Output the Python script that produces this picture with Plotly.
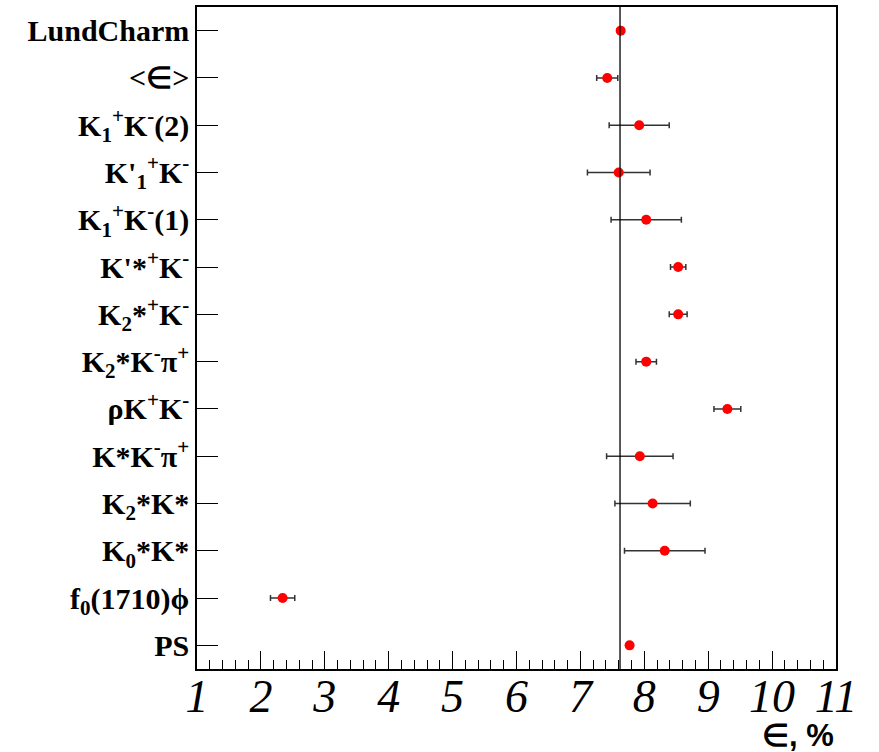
import plotly.graph_objects as go

labels = [
    "LundCharm",
    "<∈>",
    "K<sub>1</sub><sup>+</sup>K<sup>-</sup>(2)",
    "K'<sub>1</sub><sup>+</sup>K<sup>-</sup>",
    "K<sub>1</sub><sup>+</sup>K<sup>-</sup>(1)",
    "K'*<sup>+</sup>K<sup>-</sup>",
    "K<sub>2</sub>*<sup>+</sup>K<sup>-</sup>",
    "K<sub>2</sub>*K<sup>-</sup>π<sup>+</sup>",
    "ρK<sup>+</sup>K<sup>-</sup>",
    "K*K<sup>-</sup>π<sup>+</sup>",
    "K<sub>2</sub>*K*",
    "K<sub>0</sub>*K*",
    "f<sub>0</sub>(1710)ϕ",
    "PS",
]
eff = [7.63, 7.42, 7.92, 7.60, 8.03, 8.53, 8.53, 8.03, 9.30, 7.93, 8.13, 8.32, 2.34, 7.77]
err = [0.0, 0.165, 0.47, 0.49, 0.55, 0.12, 0.14, 0.16, 0.21, 0.52, 0.59, 0.63, 0.19, 0.0]
mean_eff = 7.62
x_ticks = list(range(1, 12))

ypos = list(range(len(labels)))

fig = go.Figure()
fig.add_trace(go.Scatter(
    x=eff, y=ypos, mode="markers",
    marker=dict(color="#ff0000", size=10, line=dict(width=0)),
    error_x=dict(type="data", array=err, visible=True, color="#333333", thickness=1.5, width=3),
    showlegend=False,
))

fig.add_shape(type="line", xref="x", yref="paper", x0=mean_eff, x1=mean_eff, y0=0, y1=1,
              line=dict(color="black", width=1.3))

fig.update_layout(
    width=879, height=752,
    margin=dict(l=197, r=43, t=5, b=83),
    paper_bgcolor="white", plot_bgcolor="white",
    xaxis=dict(
        range=[1, 11], tickvals=x_ticks, ticktext=[str(v) for v in x_ticks],
        ticks="inside", ticklen=18, tickcolor="black", tickwidth=1,
        minor=dict(ticks="inside", ticklen=9, dtick=0.2, tickcolor="black", tickwidth=1, showgrid=False),
        showgrid=False, zeroline=False,
        showline=True, linecolor="black", linewidth=1.5, mirror=True,
        ticklabelstandoff=-14,
        tickfont=dict(family="Liberation Serif", size=46, style="italic", color="black"),
    ),
    yaxis=dict(
        range=[13.5, -0.5], tickvals=ypos, ticktext=labels,
        ticks="inside", ticklen=21, tickcolor="black", tickwidth=1,
        showgrid=False, zeroline=False,
        showline=True, linecolor="black", linewidth=1.5, mirror=True,
        tickfont=dict(family="Liberation Serif", size=30, weight="bold", color="black"),
    ),
    annotations=[dict(
        text="∈, %", xref="paper", yref="paper", x=1.0, y=-0.1, xanchor="right", yanchor="middle",
        showarrow=False, font=dict(family="Liberation Sans", size=31, weight="bold", color="black"),
    )],
)

fig.write_html("out.html")
